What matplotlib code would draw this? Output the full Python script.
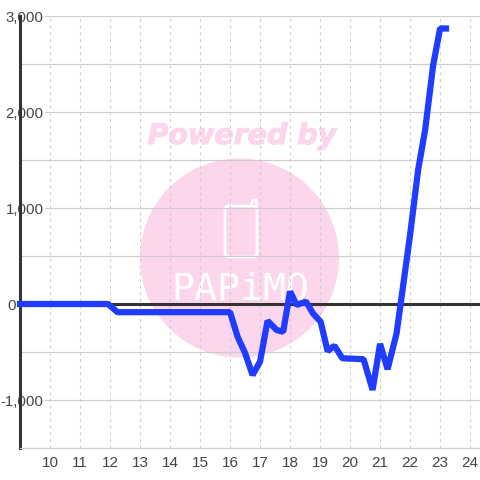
import matplotlib
matplotlib.use("Agg")
import matplotlib.pyplot as plt
import matplotlib.patheffects as pe
from matplotlib.patches import Circle, FancyBboxPatch

plt.rcParams["font.family"] = ["Liberation Sans", "DejaVu Sans"]

hours = [8.9, 11.93, 12.25, 16.0, 16.25, 16.5, 16.75, 17.0, 17.25, 17.55, 17.77,
         18.0, 18.22, 18.53, 18.77, 19.02, 19.25, 19.48, 19.74, 20.45, 20.75,
         21.0, 21.25, 21.55, 21.75, 22.0, 22.27, 22.5, 22.77, 23.0, 23.3]
balance = [0, 0, -85, -85, -340, -510, -740, -600, -175, -270, -290,
           130, -10, 25, -100, -185, -490, -435, -565, -575, -895,
           -415, -680, -305, 150, 720, 1400, 1810, 2490, 2870, 2870]
x_ticks = list(range(10, 25))
y_major = [-1000, 0, 1000, 2000, 3000]
y_minor = [-1500, -500, 500, 1500, 2500]
y_labels = ["-1,000", "0", "1,000", "2,000", "3,000"]

INK = "#444444"
AXIS = "#333333"
GRID = "#cccccc"
PINK = "#fbd6ec"

fig = plt.figure(figsize=(4.8, 4.8), dpi=100, facecolor="white")

# watermark sits behind everything, laid out in pixels
bg = fig.add_axes([0, 0, 1, 1], zorder=0)
bg.set_xlim(0, 480)
bg.set_ylim(480, 0)
bg.axis("off")
bg.add_patch(Circle((239.5, 258), 99.5, facecolor=PINK, edgecolor="none"))
bg.add_patch(FancyBboxPatch((225, 206), 32, 51, boxstyle="round,pad=0,rounding_size=4",
                            facecolor="none", edgecolor="white", linewidth=2))
bg.plot([251, 253, 256, 257], [206, 200, 200, 206], color="white", lw=2, solid_capstyle="round")
bg.text(242, 136, "Powered by", color=PINK, fontsize=20.5, fontweight="bold", style="italic",
        family="DejaVu Sans", ha="center", va="center",
        path_effects=[pe.withStroke(linewidth=0.8, foreground=PINK)])
bg.text(240, 290, "PAPiMO", color="white", fontsize=27.5, family="DejaVu Sans Mono",
        ha="center", va="center")

ax = fig.add_axes([20 / 480, 32 / 480, 460 / 480, 432 / 480], zorder=1)
ax.patch.set_alpha(0)
ax.set_xlim(9, 24.33)
ax.set_ylim(-1500, 3000)

ax.set_xticks(x_ticks)
ax.set_yticks(y_major)
ax.set_yticks(y_minor, minor=True)
ax.set_yticklabels(y_labels)
ax.tick_params(axis="both", which="both", length=0)
ax.tick_params(axis="x", labelsize=11, labelcolor=INK, pad=5.5)
ax.tick_params(axis="y", labelsize=10.8, labelcolor=INK, pad=-17)

ax.grid(axis="x", color=GRID, linewidth=0.8, linestyle=(0, (2.5, 3.5)))
ax.grid(axis="y", which="both", color=GRID, linewidth=0.85)
ax.set_axisbelow(True)

for side in ["top", "right"]:
    ax.spines[side].set_visible(False)
ax.spines["left"].set_color(AXIS)
ax.spines["left"].set_linewidth(2.2)
ax.spines["left"].set_zorder(1.5)
ax.spines["bottom"].set_color(GRID)
ax.spines["bottom"].set_linewidth(0.85)
ax.spines["bottom"].set_zorder(1.5)

# the zero label sits left of the axis in the original, the others over it
for tick, value in zip(ax.yaxis.get_major_ticks(), y_major):
    if value == 0:
        tick.set_pad(3)
    else:
        tick.label1.set_bbox(dict(facecolor="white", edgecolor="none", pad=1))

ax.axhline(0, color=AXIS, linewidth=2.2, zorder=2)
ax.plot(hours, balance, color="#1f3cff", linewidth=4.5, solid_joinstyle="bevel",
        solid_capstyle="butt", zorder=4, clip_on=False)

fig.savefig("out.png", dpi=100)
